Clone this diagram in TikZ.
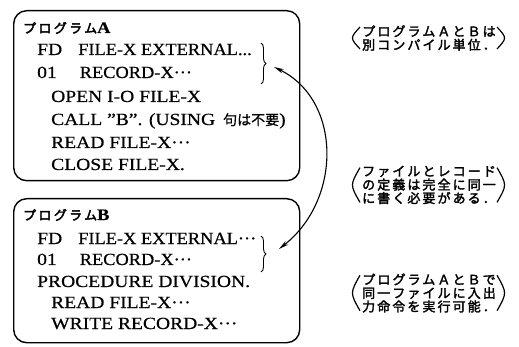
\documentclass[tikz,border=0pt]{standalone}
\usepackage{fontspec}
\usetikzlibrary{arrows.meta,decorations.pathreplacing}
\setmainfont{Liberation Serif}[FakeStretch=1.15,FakeBold=0.6]
\newfontfamily\cjk{Noto Sans CJK JP}[FakeBold=0.6]
\newfontfamily\cjkb{Noto Sans CJK JP}[FakeBold=2.2,LetterSpace=16]
\newfontfamily\cjkt{Noto Sans CJK JP}[FakeBold=3,LetterSpace=18]
\newcommand{\narrow}[1]{\scalebox{0.94}[1]{#1}}
\begin{document}
\begin{tikzpicture}[x=1pt,y=-1pt,
  box/.style={draw,line width=1.4pt,rounded corners=13pt,anchor=north west,inner sep=0pt},
  code/.style={anchor=base west,inner sep=0pt,font=\fontsize{17}{20}\selectfont},
  ttl/.style={anchor=base west,inner sep=0pt},
  note/.style={align=center,inner sep=0pt,font=\cjkb\fontsize{13}{13.5}\selectfont},
  paren/.style={line width=1.2pt},
  brc/.style={decorate,decoration={brace,amplitude=5pt},line width=0.9pt},
  arr/.style={line width=1.1pt,{Stealth[length=10pt,width=4.5pt]}-{Stealth[length=10pt,width=4.5pt]}}]
\useasboundingbox (0,0) rectangle (519,347);
% boxes
\node[box,minimum width=286pt,minimum height=170pt] (boxA) at (13,10) {};
\node[box,minimum width=286pt,minimum height=144pt] (boxB) at (13,198) {};
% program A
\node[ttl] (tA) at (23,33) {\cjkt\fontsize{13}{14}\selectfont プログラム\fontsize{16}{18}\rmfamily\bfseries A};
\node[code] (a1) at (37,55) {FD\hspace{16pt}\narrow{FILE-X EXTERNAL...}};
\node[code] (a2) at (37,78) {01\hspace{23pt}\narrow{RECORD-X···}};
\node[code] (a3) at (51,102) {OPEN I-O FILE-X};
\node[code] (a4) at (51,125) {CALL "B". (USING\hspace{8pt}{\cjk\fontsize{14}{16}\selectfont 句は不要})};
\node[code] (a5) at (51,148) {READ FILE-X···};
\node[code] (a6) at (51,170) {CLOSE FILE-X.};
% program B
\node[ttl] (tB) at (23,220) {\cjkt\fontsize{13}{14}\selectfont プログラム\fontsize{16}{18}\rmfamily\bfseries B};
\node[code] (b1) at (37,244) {FD\hspace{16pt}\narrow{FILE-X EXTERNAL···}};
\node[code] (b2) at (37,265) {01\hspace{23pt}\narrow{RECORD-X···}};
\node[code] (b3) at (37,287) {PROCEDURE DIVISION.};
\node[code] (b4) at (51,308) {READ FILE-X···};
\node[code] (b5) at (51,329) {WRITE RECORD-X···};
% braces
\coordinate (ba1) at (261,43);
\coordinate (ba2) at (261,84);
\coordinate (bb1) at (261,236);
\coordinate (bb2) at (261,272);
\draw[brc] (ba1) -- (ba2);
\draw[brc] (bb1) -- (bb2);
% arrow
\coordinate (pA) at (274,67);
\coordinate (pB) at (279,249);
\draw[arr] (pA) .. controls (342,100) and (342,200) .. (pB);
% notes
\node[note] (n1) at (429,38) {プログラムＡとＢは\\別コンパイル単位．};
\node[note] (n2) at (429,185) {ファイルとレコード\\の定義は完全に同一\\に書く必要がある．};
\node[note] (n3) at (429,293) {プログラムＡとＢで\\同一ファイルに入出\\力命令を実行可能．};
\foreach \n in {n1,n2,n3}{
  \draw[paren] ([xshift=-2pt,yshift=-2pt]\n.north west) .. controls ([xshift=-12pt]\n.west) .. ([xshift=-2pt,yshift=2pt]\n.south west);
  \draw[paren] ([xshift=1pt,yshift=-2pt]\n.north east) .. controls ([xshift=11pt]\n.east) .. ([xshift=1pt,yshift=2pt]\n.south east);
}
\end{tikzpicture}
\end{document}
